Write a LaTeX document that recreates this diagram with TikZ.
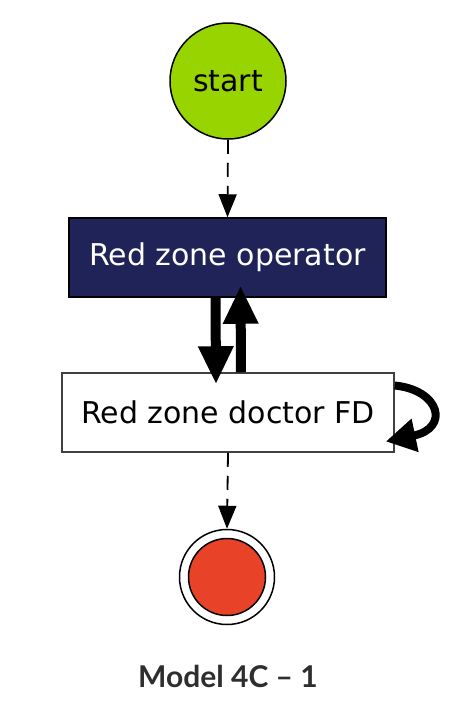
\documentclass[tikz,border=0pt]{standalone}
\usepackage{fontspec}
\newfontfamily\nodefont{DejaVu Sans}
\newfontfamily\capfont{Lato}[UprightFont=* Bold]
\usetikzlibrary{arrows.meta}
\definecolor{startgreen}{HTML}{98D400}
\definecolor{opnavy}{HTML}{1F2357}
\definecolor{endred}{HTML}{E84228}
\definecolor{captiongray}{HTML}{2E2E2E}
\tikzset{
  statebox/.style={rectangle, draw=black, line width=1.5pt, minimum height=79pt, inner sep=0pt, font=\nodefont\fontsize{30}{36}\selectfont},
  dashconn/.style={draw=black, line width=1.8pt, dash pattern=on 14pt off 9pt, -{Triangle[length=23pt,width=18pt]}},
  thickconn/.style={draw=black, line width=10pt, -{Triangle[length=38pt,width=33pt]}},
  loopconn/.style={draw=black, line width=8pt, -{Triangle[length=30pt,width=32pt]}}
}
\begin{document}
\begin{tikzpicture}[x=1pt,y=-1pt]
\useasboundingbox (0,0) rectangle (466,710);
\node[circle, draw=black, line width=1.5pt, fill=startgreen, minimum size=116pt, inner sep=0pt, font=\nodefont\fontsize{30}{36}\selectfont] (start) at (228,81) {start};
\node[statebox, fill=opnavy, text=white, minimum width=317pt] (op) at (227.5,257.5) {Red zone operator};
\node[statebox, draw=black!75, fill=white, minimum width=332pt] (doc) at (228,412.5) {Red zone doctor FD};
\node[circle, draw=black, line width=1.5pt, fill=white, minimum size=95pt, inner sep=0pt] (endo) at (227,577) {};
\node[circle, draw=black, line width=1.5pt, fill=endred, minimum size=77pt, inner sep=0pt] (endi) at (endo.center) {};
\node[font=\capfont\fontsize{30}{36}\selectfont, text=captiongray] (cap) at (228,676) {Model 4C – 1};
\draw[dashconn] (start.south) -- (op.north);
\draw[dashconn] (doc.south) -- (endo.north);
\draw[thickconn] ([xshift=-12pt]op.south) -- ([xshift=-12pt,yshift=-12pt]doc.north);
\draw[thickconn] ([xshift=13pt]doc.north) -- ([xshift=13pt,yshift=12pt]op.south);
\draw[loopconn] ([yshift=27pt]doc.east) .. controls (440,390) and (450,428) .. ([xshift=-9pt,yshift=-29pt]doc.east);
\end{tikzpicture}
\end{document}
